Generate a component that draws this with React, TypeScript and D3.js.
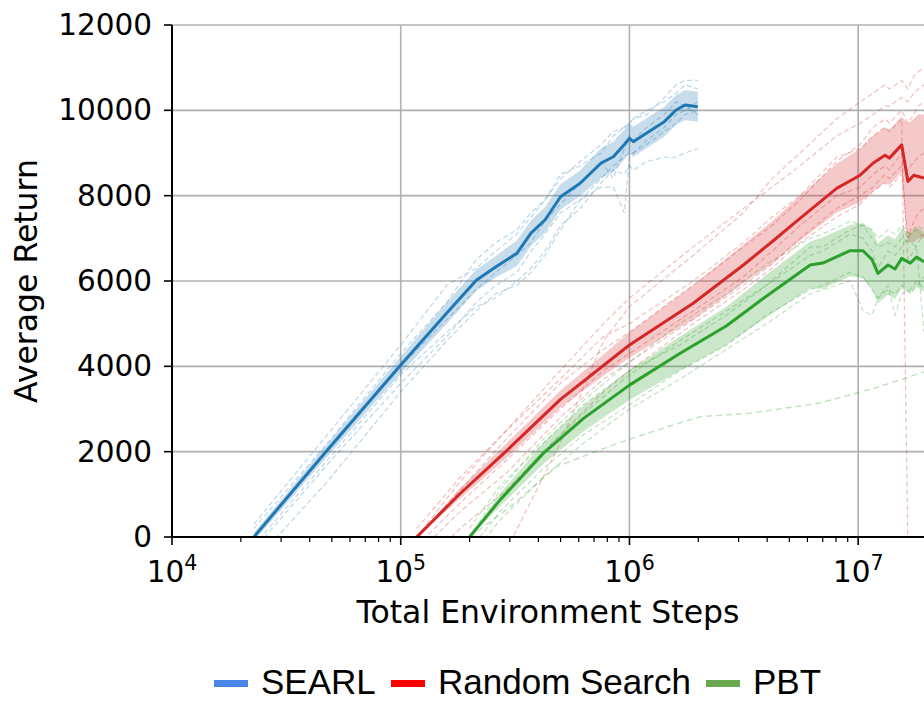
import React from 'react';
import * as d3 from 'd3';

// ---------- tick labels ----------
const yTickValues = [0, 2000, 4000, 6000, 8000, 10000, 12000];
const xMajorExponents = [4, 5, 6, 7];

// ---------- SEARL ----------
const searlSteps = [2.28e4, 4.78e4, 1.0e5, 1.59e5, 2.14e5, 2.6e5, 3.22e5, 3.71e5, 4.27e5, 5.0e5, 6.09e5, 7.52e5, 8.5e5, 9.5e5, 1.0e6, 1.04e6, 1.19e6, 1.42e6, 1.6e6, 1.75e6, 1.99e6];
const searlMean = [0, 2040, 4030, 5250, 6020, 6330, 6650, 7120, 7430, 7975, 8290, 8765, 8913, 9200, 9344, 9265, 9470, 9734, 10007, 10124, 10084];
const searlHalfBand = [100, 150, 200, 250, 250, 250, 300, 300, 300, 300, 300, 350, 350, 350, 350, 350, 350, 350, 350, 350, 350];
const searlRuns = [
  [-300, 1700, 3600, 4700, 5500, 5900, 6200, 6700, 7100, 7600, 7900, 8400, 8700, 8900, 9000, 9000, 9200, 9500, 9700, 9900, 10000],
  [300, 2400, 4500, 5900, 6300, 6700, 7100, 7500, 7900, 8400, 8800, 9200, 9500, 9600, 9700, 9800, 10000, 10200, 10400, 10600, 10500],
  [-200, 1800, 3800, 4800, 5400, 5600, 6000, 6300, 6700, 7300, 7700, 8300, 8600, 8500, 8700, 8600, 8800, 8900, 8900, 9000, 9100],
  [-600, 1300, 3400, 4600, 5300, 5700, 5900, 6200, 6600, 7200, 7900, 8200, 8200, 7600, 8900, 9000, 9300, 9600, 9900, 10000, 10200],
  [200, 2200, 4300, 5500, 6500, 6900, 7200, 7600, 7900, 8500, 8700, 9000, 9400, 9600, 9700, 9800, 9900, 10300, 10600, 10700, 10700],
  [0, 2000, 4000, 5100, 5800, 6200, 6600, 6900, 7400, 7800, 8300, 8800, 8400, 9100, 9400, 9300, 9600, 9900, 10200, 10100, 9900],
];

// ---------- Random Search ----------
const randomSteps = [1.175e5, 1.82e5, 2.9e5, 4.98e5, 7.7e5, 1.0e6, 1.9e6, 3.15e6, 4.2e6, 5.57e6, 8.05e6, 1.02e7, 1.16e7, 1.31e7, 1.37e7, 1.55e7, 1.65e7, 1.75e7, 1.83e7, 1.94e7];
const randomMean = [0, 1020, 2020, 3220, 4020, 4500, 5480, 6375, 6920, 7470, 8170, 8480, 8760, 8950, 8880, 9190, 8330, 8480, 8450, 8410];
const randomLow = [0, 900, 1850, 3030, 3780, 4200, 5100, 5950, 6400, 6950, 7600, 7850, 8100, 8300, 8250, 8550, 6900, 6900, 7000, 7000];
const randomHigh = [0, 1150, 2200, 3430, 4280, 4800, 5900, 6850, 7400, 8000, 8750, 9100, 9400, 9600, 9550, 9850, 9700, 9800, 9900, 9900];
const randomRuns: (number | null)[][] = [
  [0, 1300, 2500, 3900, 5000, 5600, 6800, 7700, 8200, 8700, 9400, 9700, 9900, 10100, 10100, 10300, 10200, 10400, 10500, 10600],
  [-400, 600, 1500, 2800, 3700, 4100, 5100, 5900, 6400, 7000, 7700, 8000, 8200, 8500, 8400, 8700, 8600, 8800, 8900, 9000],
  [200, 1400, 2500, 3700, 4700, 5000, 6000, 6900, 7500, 8000, 8900, 9100, 9400, 9600, 9500, 9800, -300, null, null, null],
  [-800, 200, 1100, 2400, 3400, 3900, 5000, 5800, 6300, 6900, 7500, 7800, 8100, 8300, 8200, 8500, 7000, 7400, 7600, 7700],
  [0, 1100, 2300, 3600, 4400, 4800, 5900, 6800, 7300, 7900, 8800, 9200, 9600, 9800, 9700, 10000, 9700, 9900, 10100, 10200],
  [-200, 800, 1800, 3000, 3900, 4300, 5300, 6100, 6700, 7300, 8000, 8200, 8500, 8700, 8600, 9000, 6500, 6700, 6900, 7100],
  [null, null, -300, 2200, 4600, 5400, 6600, 7600, 8400, 9000, 9800, 10200, 10400, 10600, 10500, 10700, 10500, 10800, 10900, 11000],
];

// ---------- PBT ----------
const pbtSteps = [2.0e5, 2.72e5, 4.2e5, 6.3e5, 1.0e6, 1.66e6, 2.66e6, 3.98e6, 6.17e6, 7.0e6, 9.22e6, 1.05e7, 1.15e7, 1.22e7, 1.35e7, 1.45e7, 1.55e7, 1.69e7, 1.8e7, 1.94e7];
const pbtMean = [0, 870, 1960, 2780, 3560, 4300, 4950, 5650, 6375, 6420, 6710, 6710, 6500, 6180, 6375, 6280, 6530, 6420, 6560, 6450];
const pbtHalfBand = [0, 150, 250, 300, 350, 400, 450, 500, 550, 600, 600, 650, 700, 700, 700, 700, 700, 700, 700, 700];
const pbtRuns = [
  [0, 1100, 2300, 3200, 4100, 5000, 5700, 6400, 7000, 7100, 7400, 7300, 7200, 7000, 7200, 7100, 7300, 7100, 7300, 7200],
  [-300, 600, 1600, 2400, 3100, 3900, 4500, 5200, 5800, 5900, 6200, 6100, 5800, 5600, 5900, 5200, 5700, 5800, 6000, 5800],
  [0, 900, 2000, 2900, 3800, 4600, 5300, 5900, 6800, 6800, 7200, 7300, 7000, 6800, 6900, 6800, 7000, 6900, 6800, 4800],
  [-500, 400, 1400, 2200, 3000, 3700, 4400, 5000, 5700, 5800, 6000, 5300, 5200, 5600, 5800, 5700, 5900, 5700, 5900, 6100],
  [200, 1200, 2200, 3100, 3900, 4500, 5200, 5900, 6600, 6700, 7100, 7000, 6700, 6300, 6700, 6600, 6800, 7100, 7200, 7000],
];
const pbtOutlierSteps = [2.0e5, 3.0e5, 4.8e5, 8.8e5, 1.46e6, 2.04e6, 3.37e6, 6.8e6, 1.2e7, 1.94e7];
const pbtOutlierValues = [0, 700, 1650, 2190, 2580, 2820, 2900, 3140, 3500, 3870];

// ---------- legend ----------
const legendNames = ['SEARL', 'Random Search', 'PBT'];
const legendColors = ['#4a86e8', '#ff0000', '#6aa84f'];

const AXIS_FONT = "'DejaVu Sans', sans-serif";
const LEGEND_FONT = "'Liberation Sans', Arial, sans-serif";

export default function App() {
  const W = 924;
  const H = 702;
  const x = d3.scaleLog().domain([1e4, 1.94e7]).range([172, 924]);
  const y = d3.scaleLinear().domain([0, 12000]).range([537, 25]);
  const [x0, x1] = x.range();
  const [yb, yt] = y.range();

  const zip = (steps: number[], vals: (number | null)[]) =>
    steps.map((s, i) => [s, vals[i]] as [number, number | null]);

  const lineGen = d3
    .line<[number, number | null]>()
    .defined((d) => d[1] !== null && d[1] !== undefined)
    .x((d) => x(d[0]))
    .y((d) => y(d[1] as number));

  const bandGen = d3
    .area<[number, number, number]>()
    .x((d) => x(d[0]))
    .y0((d) => y(d[1]))
    .y1((d) => y(d[2]));

  const series = [
    {
      color: '#1f77b4',
      steps: searlSteps,
      mean: searlMean,
      lo: searlMean.map((m, i) => m - searlHalfBand[i]),
      hi: searlMean.map((m, i) => m + searlHalfBand[i]),
      runs: searlRuns as (number | null)[][],
    },
    {
      color: '#d62728',
      steps: randomSteps,
      mean: randomMean,
      lo: randomLow,
      hi: randomHigh,
      runs: randomRuns,
    },
    {
      color: '#2ca02c',
      steps: pbtSteps,
      mean: pbtMean,
      lo: pbtMean.map((m, i) => m - pbtHalfBand[i]),
      hi: pbtMean.map((m, i) => m + pbtHalfBand[i]),
      runs: pbtRuns as (number | null)[][],
    },
  ];

  const allTicks = x.ticks();
  const minorTicks = allTicks.filter((t) => Math.abs(Math.log10(t) - Math.round(Math.log10(t))) > 1e-6);
  const majorTicks = xMajorExponents.map((e) => Math.pow(10, e));

  // legend layout
  const legendWidths = [115, 253, 68];
  const legendStart = 214;
  let cursor = legendStart;
  const legendItems = legendNames.map((n, i) => {
    const item = { name: n, color: legendColors[i], px: cursor, tx: cursor + 47 };
    cursor += 47 + legendWidths[i] + 15;
    return item;
  });

  return (
    <svg
      width={W}
      height={H}
      style={{ position: 'absolute', left: 0, top: 0, background: '#fff' }}
      xmlns="http://www.w3.org/2000/svg"
    >
      <defs>
        <clipPath id="plotClip">
          <rect x={x0} y={yt} width={x1 - x0} height={yb - yt} />
        </clipPath>
      </defs>
      <rect x={0} y={0} width={W} height={H} fill="#fff" />

      {/* grid */}
      <g stroke="#b0b0b0" strokeWidth={1.6}>
        {yTickValues.map((v) => (
          <line key={'gy' + v} x1={x0} x2={x1} y1={y(v)} y2={y(v)} />
        ))}
        {majorTicks.map((v) => (
          <line key={'gx' + v} x1={x(v)} x2={x(v)} y1={yt} y2={yb} />
        ))}
      </g>

      <g clipPath="url(#plotClip)">
        {/* individual runs */}
        {series.map((s, si) => (
          <g key={'runs' + si} stroke={s.color} strokeOpacity={0.3} strokeWidth={1.2} fill="none" strokeDasharray="5,3">
            {s.runs.map((r, ri) => (
              <path key={ri} d={lineGen(zip(s.steps, r)) || ''} />
            ))}
          </g>
        ))}
        <path
          d={lineGen(zip(pbtOutlierSteps, pbtOutlierValues)) || ''}
          stroke="#2ca02c"
          strokeOpacity={0.3}
          strokeWidth={1.4}
          fill="none"
          strokeDasharray="6,4"
        />
        {/* bands */}
        {series.map((s, si) => (
          <path
            key={'band' + si}
            d={bandGen(s.steps.map((st, i) => [st, s.lo[i], s.hi[i]] as [number, number, number])) || ''}
            fill={s.color}
            fillOpacity={0.25}
            stroke="none"
          />
        ))}
        {/* means */}
        {series.map((s, si) => (
          <path
            key={'mean' + si}
            d={lineGen(zip(s.steps, s.mean)) || ''}
            stroke={s.color}
            strokeWidth={3}
            fill="none"
            strokeLinejoin="round"
          />
        ))}
      </g>

      {/* spines */}
      <line x1={x0} x2={x0} y1={yt} y2={yb} stroke="#000" strokeWidth={2} />
      <line x1={x0} x2={x1} y1={yb} y2={yb} stroke="#000" strokeWidth={2} />

      {/* y ticks */}
      {yTickValues.map((v) => (
        <g key={'yt' + v}>
          <line x1={x0 - 8} x2={x0} y1={y(v)} y2={y(v)} stroke="#000" strokeWidth={1.6} />
          <text
            x={x0 - 20}
            y={y(v)}
            textAnchor="end"
            dominantBaseline="central"
            fontFamily={AXIS_FONT}
            fontSize={29.5}
            fill="#000"
          >
            {v}
          </text>
        </g>
      ))}

      {/* x ticks */}
      {minorTicks.map((v) => (
        <line key={'xm' + v} x1={x(v)} x2={x(v)} y1={yb} y2={yb + 5} stroke="#000" strokeWidth={1.2} />
      ))}
      {majorTicks.map((v, i) => (
        <g key={'xM' + v}>
          <line x1={x(v)} x2={x(v)} y1={yb} y2={yb + 8} stroke="#000" strokeWidth={1.6} />
          <text x={x(v)} y={582} textAnchor="middle" fontFamily={AXIS_FONT} fontSize={29.5} fill="#000">
            10
            <tspan dy={-12} fontSize={20.5}>
              {xMajorExponents[i]}
            </tspan>
          </text>
        </g>
      ))}

      {/* axis labels */}
      <text x={(x0 + x1) / 2} y={623} textAnchor="middle" fontFamily={AXIS_FONT} fontSize={31.5} fill="#000">
        Total Environment Steps
      </text>
      <text
        transform={`translate(37, ${(yt + yb) / 2}) rotate(-90)`}
        textAnchor="middle"
        fontFamily={AXIS_FONT}
        fontSize={31.5}
        fill="#000"
      >
        Average Return
      </text>

      {/* legend */}
      {legendItems.map((it) => (
        <g key={it.name}>
          <rect x={it.px} y={680} width={34} height={7} fill={it.color} />
          <text x={it.tx} y={694} fontFamily={LEGEND_FONT} fontSize={35} fill="#000">
            {it.name}
          </text>
        </g>
      ))}
    </svg>
  );
}
